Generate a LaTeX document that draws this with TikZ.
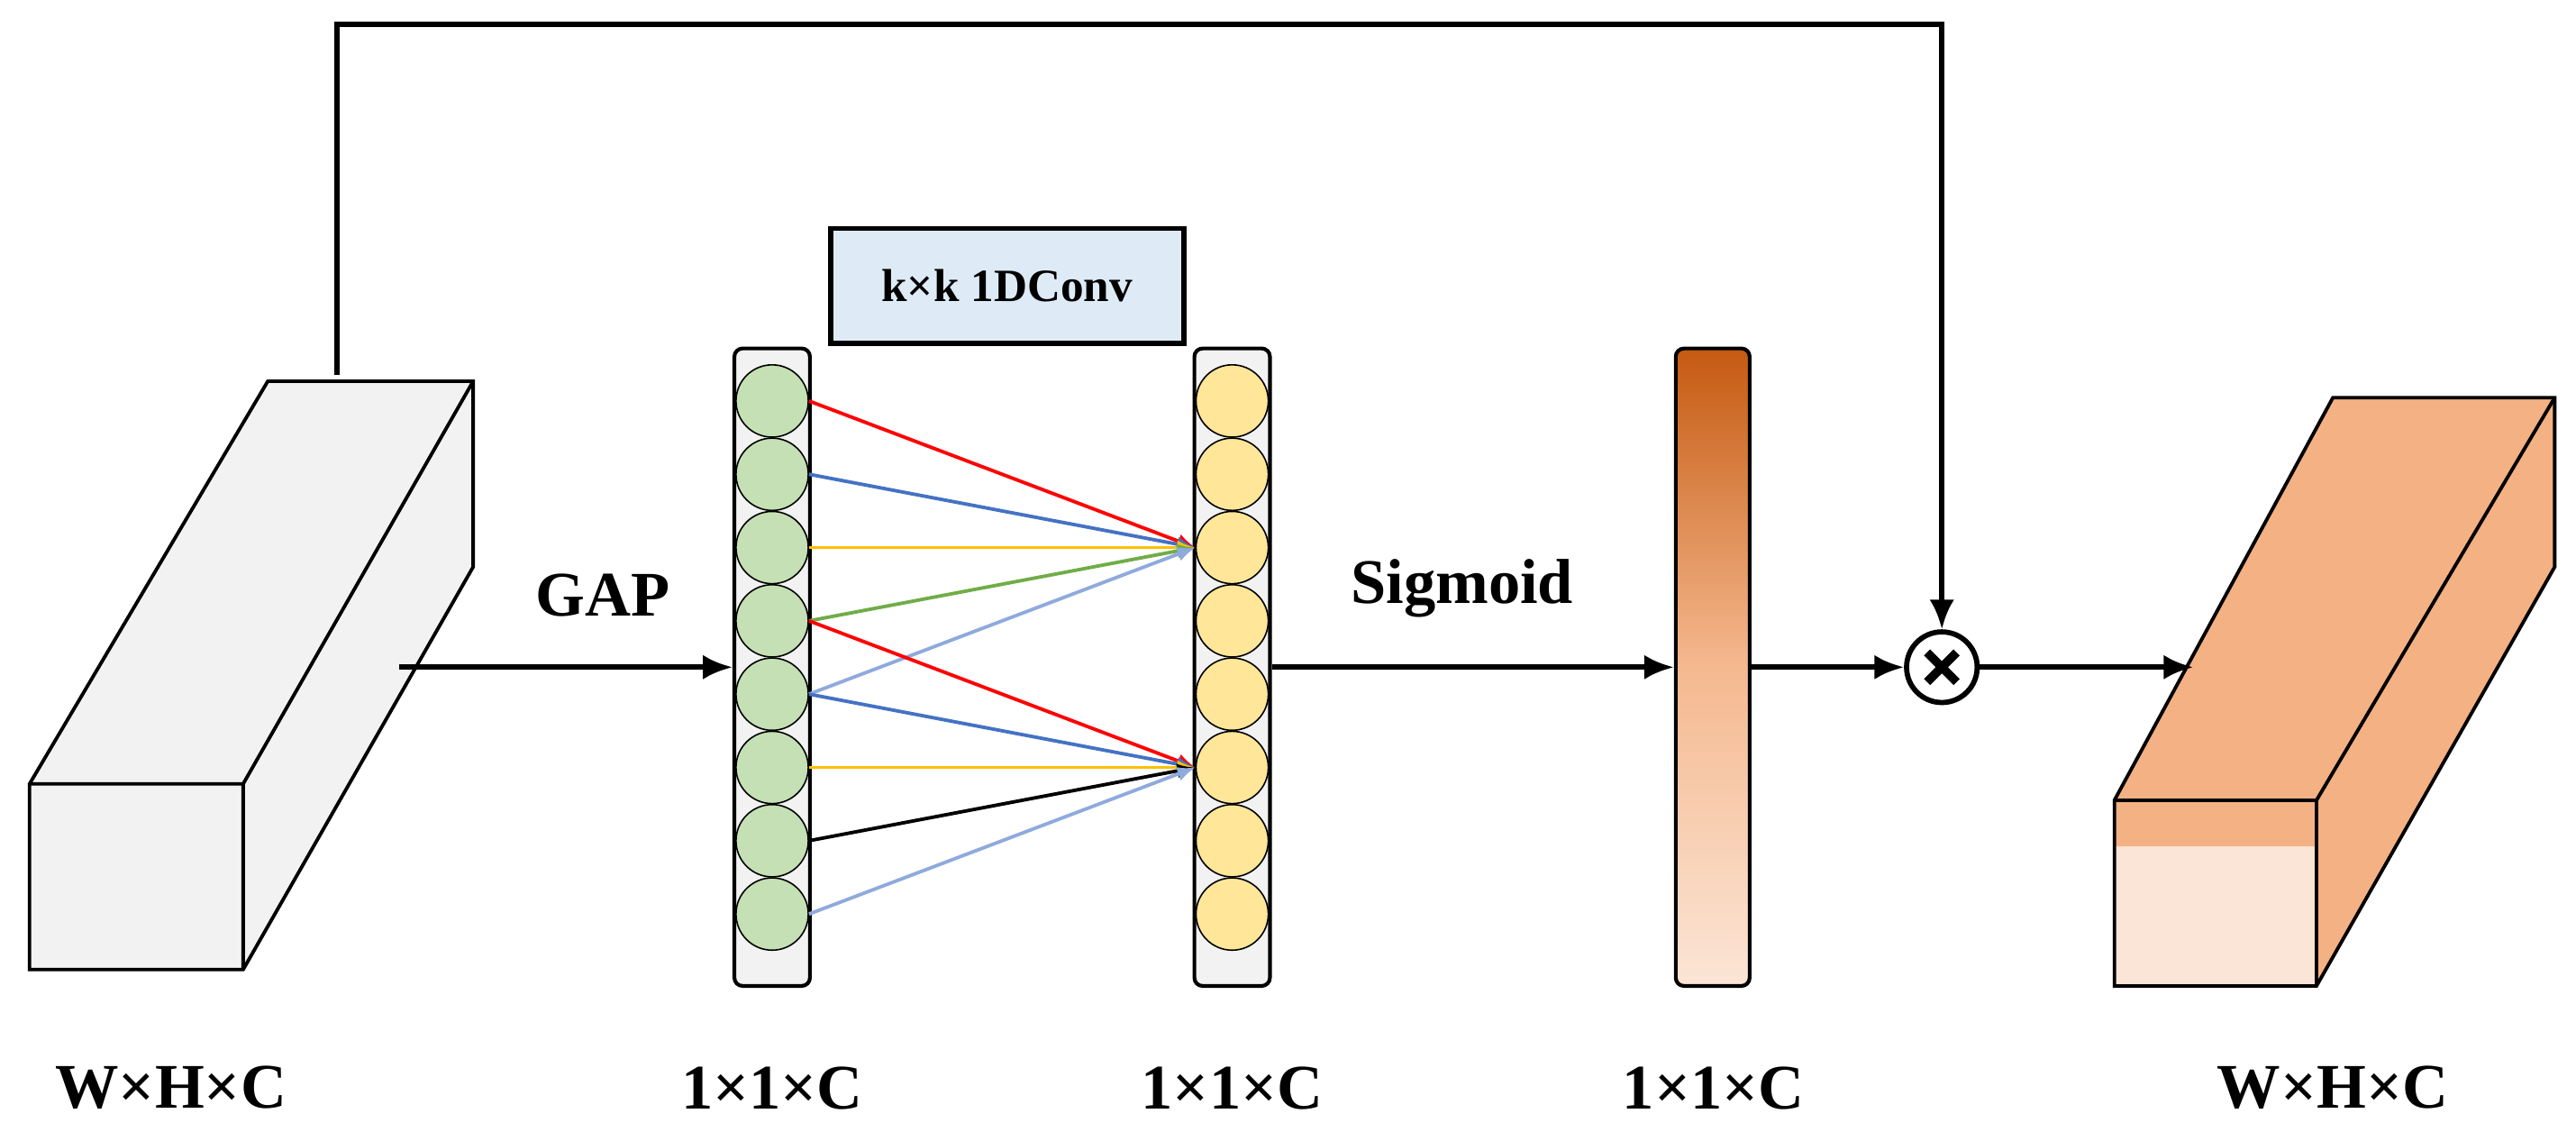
\documentclass[tikz,border=0pt]{standalone}
\usepackage{fontspec}
\setmainfont{Liberation Serif}
\usetikzlibrary{arrows.meta,shapes.geometric}
\definecolor{greenc}{HTML}{C5E0B4}
\definecolor{yellowc}{HTML}{FFE699}
\definecolor{boxc}{HTML}{DEEBF7}
\definecolor{orangec}{HTML}{F4B183}
\definecolor{darkor}{HTML}{C55A11}
\definecolor{lightor}{HTML}{FBE5D6}
\definecolor{lblue}{HTML}{8FAADC}
\definecolor{mblue}{HTML}{4472C4}
\definecolor{gold}{HTML}{FFC000}
\definecolor{mgreen}{HTML}{70AD47}
\tikzset{
  bar/.style={rectangle,rounded corners=1mm,draw,line width=1.3pt,fill=black!5,minimum width=0.92cm,minimum height=7.76cm},
  cell/.style={circle,draw,line width=0.5pt,minimum size=0.88cm,inner sep=0pt},
  flow/.style={line width=1.8pt,-{Latex[length=3.6mm,width=3mm]}},
  conv/.style={line width=1.2pt,-{Latex[length=2.2mm,width=1.8mm]}},
  lab/.style={font=\bfseries\fontsize{22}{24}\selectfont}
}
\begin{document}
\begin{tikzpicture}[x=0.02cm,y=-0.02cm]
\useasboundingbox (0,0) rectangle (1568,694);
% input feature map
\draw[line width=1.2pt,fill=black!5] (18,477)--(163,232)--(288,232)--(288,345)--(148,590)--(18,590)--cycle;
\draw[line width=1.2pt] (18,477)--(148,477)--(288,232) (148,477)--(148,590);
\coordinate (gapstart) at (243,406);
\coordinate (skip) at (205,228);
% GAP vector
\node[bar] (lbar) at (470,406) {};
\foreach \i in {1,...,8}
  \node[cell,fill=greenc] (g\i) at (470,{244+44.6*(\i-1)}) {};
% conv vector
\node[bar] (rbar) at (750,406) {};
\foreach \i in {1,...,8}
  \node[cell,fill=yellowc] (y\i) at (750,{244+44.6*(\i-1)}) {};
\node[rectangle,draw,line width=1.8pt,fill=boxc,minimum width=4.3cm,minimum height=1.4cm,font=\bfseries\fontsize{16}{18}\selectfont] (conv) at (613,174) {k×k 1DConv};
% 1D conv links
\draw[conv,red] (g1.east)--(y3.west);
\draw[conv,mblue] (g2.east)--(y3.west);
\draw[conv,gold] (g3.east)--(y3.west);
\draw[conv,mgreen] (g4.east)--(y3.west);
\draw[conv,lblue] (g5.east)--(y3.west);
\draw[conv,red] (g4.east)--(y6.west);
\draw[conv,mblue] (g5.east)--(y6.west);
\draw[conv,gold] (g6.east)--(y6.west);
\draw[conv,black] (g7.east)--(y6.west);
\draw[conv,lblue] (g8.east)--(y6.west);
% sigmoid weights
\shade[rounded corners=1mm,top color=darkor,bottom color=lightor,middle color=orangec!90] (1020,212) rectangle (1065,600);
\node[rectangle,rounded corners=1mm,draw,line width=1.3pt,minimum width=0.9cm,minimum height=7.76cm] (sbar) at (1042.5,406) {};
\node[circle,draw,line width=1.8pt,minimum size=0.86cm,inner sep=0pt] (mul) at (1182,406) {};
\draw[line width=3pt] (mul.center)+(-9,-9)--+(9,9) (mul.center)+(-9,9)--+(9,-9);
% output feature map
\fill[orangec] (1287,487)--(1420,242)--(1555,242)--(1555,345)--(1410,600)--(1287,600)--cycle;
\fill[lightor] (1287,515) rectangle (1410,600);
\draw[line width=1.2pt] (1287,487)--(1420,242)--(1555,242)--(1555,345)--(1410,600)--(1287,600)--cycle;
\draw[line width=1.2pt] (1287,487)--(1410,487)--(1555,242) (1410,487)--(1410,600);
\coordinate (outin) at (1335,406);
% connectors
\draw[flow] (gapstart)--(lbar.west);
\draw[flow] (rbar.east)--(sbar.west);
\draw[flow] (sbar.east)--(mul.west);
\draw[flow] (mul.east)--(outin);
\draw[flow] (skip)--(205,15)-|(mul.north);
% labels
\node[lab] (gap) at (367,362) {GAP};
\node[lab] (sig) at (890,358) {Sigmoid};
\node[lab] (t1) at (104,662) {W×H×C};
\node[lab] (t2) at (470,662) {1×1×C};
\node[lab] (t3) at (750,662) {1×1×C};
\node[lab] (t4) at (1043,662) {1×1×C};
\node[lab] (t5) at (1420,662) {W×H×C};
\end{tikzpicture}
\end{document}
